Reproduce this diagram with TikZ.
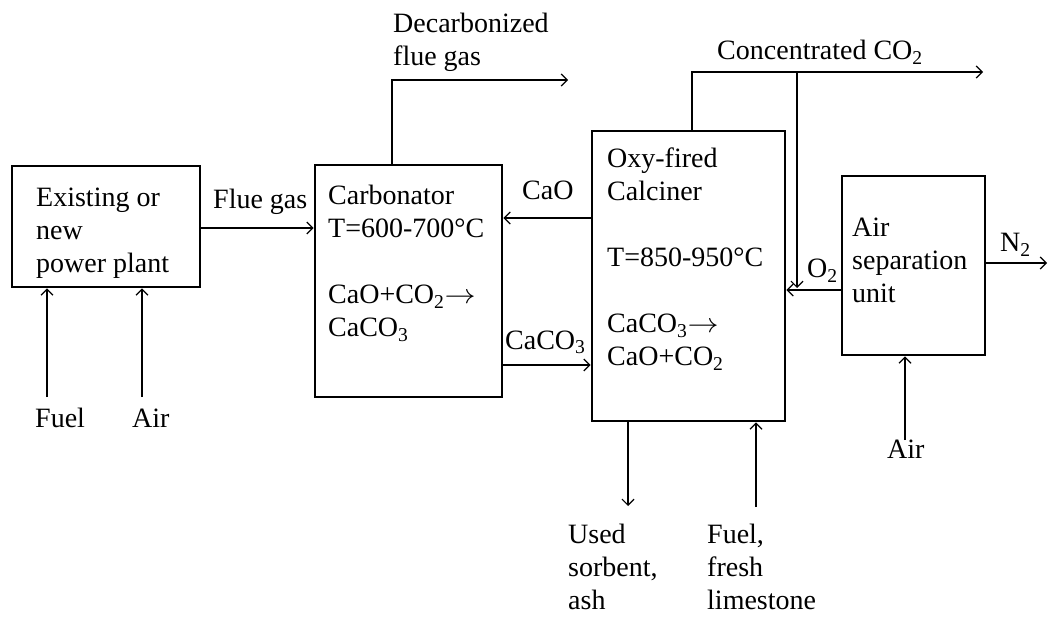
\documentclass[tikz,border=0pt]{standalone}
\usepackage{fontspec}
\usepackage{graphicx}
\setmainfont{Liberation Serif}
\usetikzlibrary{arrows.meta}
\newcommand{\rarr}{\scalebox{1.25}[1.1]{\ensuremath{\rightarrow}}}
\begin{document}
\begin{tikzpicture}[x=1pt,y=-1pt,
  box/.style={draw, line width=2.8pt, rectangle, inner sep=0pt},
  lbl/.style={anchor=base west, inner sep=0pt, align=left, font=\fontsize{28}{33}\selectfont},
  arr/.style={line width=1.2pt, -{Straight Barb[length=6pt,width=12pt,line width=1.2pt]}},
  ln/.style={line width=1.2pt}]
\useasboundingbox (0,0) rectangle (1049,617);
% boxes
\node[box, minimum width=188pt, minimum height=121pt] (pp) at (106,226.5) {};
\node[box, minimum width=187pt, minimum height=232pt] (carb) at (408.5,281) {};
\node[box, minimum width=193pt, minimum height=290pt] (calc) at (688.5,276) {};
\node[box, minimum width=143pt, minimum height=179pt] (asu) at (913.5,265.5) {};
% box texts (anchored at the baseline of their last line)
\node[lbl] (pptext) at (36,273) {Existing or\\new\\power plant};
\node[lbl] (carbtext) at (328,337) {Carbonator\\T=600-700°C\\[33pt]CaO+CO\textsubscript{2}\rarr\\CaCO\textsubscript{3}};
\node[lbl] (calctext) at (607,366) {Oxy-fired\\Calciner\\[33pt]T=850-950°C\\[33pt]CaCO\textsubscript{3}\rarr\\CaO+CO\textsubscript{2}};
\node[lbl] (asutext) at (852,303) {Air\\separation\\unit};
% labels
\node[lbl] (lflue) at (213,209) {Flue gas};
\node[lbl] (lcao) at (522,200) {CaO};
\node[lbl] (lcaco) at (505,349) {CaCO\textsubscript{3}};
\node[lbl] (ldec) at (393,66) {Decarbonized\\flue gas};
\node[lbl] (lco2) at (717,60) {Concentrated CO\textsubscript{2}};
\node[lbl] (lo2) at (807,278) {O\textsubscript{2}};
\node[lbl] (ln2) at (1000,252) {N\textsubscript{2}};
\node[lbl] (lfuel) at (35,427) {Fuel};
\node[lbl] (lair) at (132,427) {Air};
\node[lbl] (lused) at (568,609) {Used\\sorbent,\\ash};
\node[lbl] (llime) at (707,609) {Fuel,\\fresh\\limestone};
\node[lbl] (lasuair) at (887,458) {Air};
% coordinates
\coordinate (dfg) at (568,80);
\coordinate (co2) at (983,72);
\coordinate (rec) at (797,72);
\coordinate (n2) at (1047,263);
\coordinate (asuair) at (905,440);
\coordinate (fuelin) at (47,397);
\coordinate (airin) at (142,397);
\coordinate (usedout) at (628,506);
\coordinate (limein) at (756,507);
% connectors
\draw[arr] (pp.east |- 0,228) -- (carb.west |- 0,228);
\draw[arr] (calc.west |- 0,218) -- (carb.east |- 0,218);
\draw[arr] (carb.east |- 0,365) -- (calc.west |- 0,365);
\draw[arr] (carb.north -| 392,0) |- (dfg);
\draw[arr] (calc.north -| 692,0) |- (co2);
\draw[arr] (rec) -- (rec |- 0,288);
\draw[arr] (asu.west |- 0,290) -- (calc.east |- 0,290);
\draw[arr] (asu.east |- 0,263) -- (n2);
\draw[arr] (asuair) -- (asuair |- asu.south);
\draw[arr] (fuelin) -- (fuelin |- pp.south);
\draw[arr] (airin) -- (airin |- pp.south);
\draw[arr] (calc.south -| usedout) -- (usedout);
\draw[arr] (limein) -- (limein |- calc.south);
\end{tikzpicture}
\end{document}
